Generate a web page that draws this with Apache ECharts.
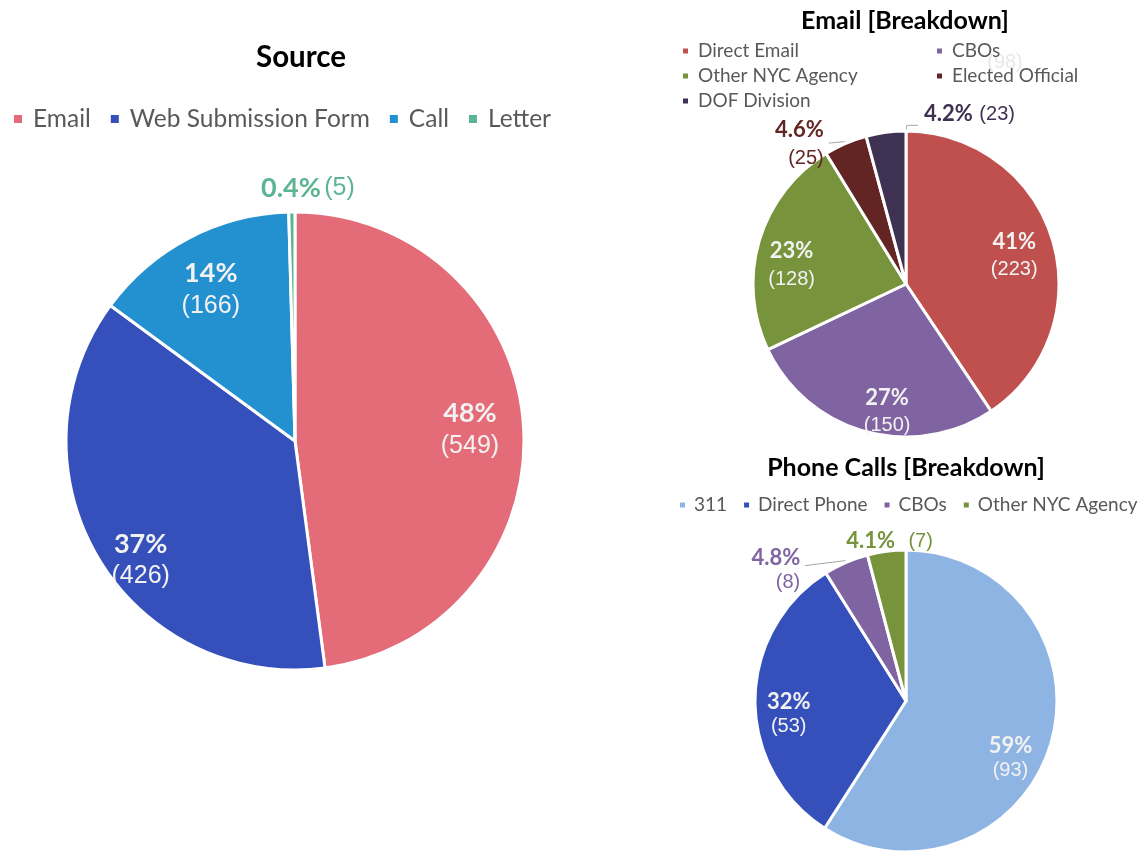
<!DOCTYPE html>
<html><head><meta charset="utf-8">
<script src="https://cdn.jsdelivr.net/npm/echarts@6/dist/echarts.min.js"></script>
<style>html,body{margin:0;padding:0;background:#fff}#c{width:1146px;height:851px}</style>
</head><body><div id="c"></div>
<script>
// ---- data ----
const sourceNames = ['Email', 'Web Submission Form', 'Call', 'Letter'];
const sourceCounts = [549, 426, 166, 5];
const sourcePct = ['48%', '37%', '14%', '0.4%'];

const emailNames = ['Direct Email', 'CBOs', 'Other NYC Agency', 'Elected Official', 'DOF Division'];
const emailCounts = [223, 150, 128, 25, 23];
const emailPct = ['41%', '27%', '23%', '4.6%', '4.2%'];
const emailStrayLabel = '(98)';

const phoneNames = ['311', 'Direct Phone', 'CBOs', 'Other NYC Agency'];
const phoneShares = [59, 32, 4.8, 4.1];
const phoneCounts = [93, 53, 8, 7];
const phonePct = ['59%', '32%', '4.8%', '4.1%'];

// ---- styles ----
const sourceColors = ['#E36C78', '#3550BA', '#2391D0', '#5BB593'];
const emailColors = ['#C0504D', '#8064A2', '#77933C', '#632523', '#3F3151'];
const phoneColors = ['#8EB4E3', '#3550BA', '#8064A2', '#77933C'];

const FONT = 'Lato, "Open Sans", sans-serif';
const NUMFONT = '"Liberation Sans", Arial, sans-serif';
const LEADER = '#A6A6A6';

function rich(pSize, cSize, color, lh) {
  return {
    p: { fontFamily: FONT, fontWeight: 'bold', fontSize: pSize, color: color, lineHeight: lh },
    c: { fontFamily: NUMFONT, fontSize: cSize, color: color, lineHeight: lh }
  };
}

// build a pie: visual series + label series
function buildPie(cfg) {
  const visual = {
    type: 'pie', center: cfg.center, radius: [0, cfg.R], startAngle: 90, clockwise: true,
    silent: true, animation: false, emphasis: { disabled: true },
    label: { show: false }, labelLine: { show: false },
    itemStyle: { borderColor: '#fff', borderWidth: cfg.border },
    data: cfg.names.map((n, i) => ({ name: n, value: cfg.values[i], itemStyle: { color: cfg.colors[i] } }))
  };
  const inner = cfg.R * cfg.ringStart;
  const labels = {
    type: 'pie', center: cfg.center, radius: [inner, cfg.R], startAngle: 90, clockwise: true,
    silent: true, animation: false, emphasis: { disabled: true }, avoidLabelOverlap: false,
    itemStyle: { color: 'rgba(0,0,0,0)', borderWidth: 0 },
    data: cfg.names.map((n, i) => {
      const it = cfg.items[i];
      const inside = it.kind === 'in';
      const col = inside ? '#F2F2F2' : cfg.colors[i];
      const sep = it.single ? (it.sep || ' ') : '\n';
      return {
        name: n, value: cfg.values[i],
        itemStyle: { color: 'rgba(0,0,0,0)' },
        label: {
          show: true, position: inside ? 'inside' : 'outside',
          formatter: '{p|' + cfg.pct[i] + '}' + sep + '{c|(' + cfg.counts[i] + ')}',
          rich: rich(cfg.pSize, cfg.cSize, col, cfg.lh)
        },
        labelLine: {
          show: !inside, length: it.line ? it.line[0] : 2, length2: it.line ? it.line[1] : 2, smooth: false,
          lineStyle: { color: it.kind === 'out' || it.kind === 'custom' ? LEADER : 'rgba(0,0,0,0)', width: 1 }
        }
      };
    }),
    labelLayout: function (params) {
      const it = cfg.items[params.dataIndex];
      if (!it) return {};
      const r = params.labelRect;
      const cx = r.x + r.width / 2, cy = r.y + r.height / 2;
      if (it.kind === 'in') {
        const o = it.off || [0, 0];
        return { x: cx + o[0], y: cy + o[1], align: 'center', verticalAlign: 'middle' };
      }
      const pts = params.labelLinePoints;
      if (!pts) return {};
      const p0 = pts[0];
      if (it.kind === 'top') {
        const o = it.off || [0, 0];
        return { x: p0[0] + o[0], y: p0[1] + o[1], align: 'center', verticalAlign: 'middle',
                 labelLinePoints: [p0, p0] };
      }
      if (it.kind === 'custom') {
        return it.custom(p0, pts);
      }
      if (it.kind === 'out' && it.off) {
        const last = pts[pts.length - 1];
        return { y: cy + it.off[1], labelLinePoints: [p0, pts[1], [last[0], last[1] + it.off[1] * 0.5]] };
      }
      return {};
    }
  };
  return [visual, labels];
}

const series = [].concat(
  buildPie({
    center: [295, 441], R: 229, border: 3, ringStart: 0.54,
    names: sourceNames, values: sourceCounts, colors: sourceColors, pct: sourcePct, counts: sourceCounts,
    pSize: 27, cSize: 25, lh: 32,
    items: [
      { kind: 'in', off: [-4, 1] },
      { kind: 'in', off: [0, 28] },
      { kind: 'in', off: [-1, 8] },
      { kind: 'top', single: true, off: [16, -24] }
    ]
  }),
  buildPie({
    center: [906, 284], R: 153, border: 3, ringStart: 0.48,
    names: emailNames, values: emailCounts, colors: emailColors, pct: emailPct, counts: emailCounts,
    pSize: 22, cSize: 20, lh: 28,
    items: [
      { kind: 'in', off: [-3, 6] },
      { kind: 'in', off: [12, 16] },
      { kind: 'in', off: [-3, 15] },
      { kind: 'out', line: [2, 16], off: [0, 3] },
      { kind: 'custom', single: true, sep: '  ', custom: function (p0) {
          return { x: p0[0] + 38, y: p0[1] - 18, align: 'left', verticalAlign: 'middle',
                   labelLinePoints: [[p0[0] + 20, p0[1] - 1], [p0[0] + 21, p0[1] - 7], [p0[0] + 32, p0[1] - 7]] };
        } }
    ]
  }),
  buildPie({
    center: [906, 701], R: 151, border: 3, ringStart: 0.54,
    names: phoneNames, values: phoneShares, colors: phoneColors, pct: phonePct, counts: phoneCounts,
    pSize: 22, cSize: 20, lh: 25,
    items: [
      { kind: 'in', off: [-10, 24] },
      { kind: 'in', off: [2, 14] },
      { kind: 'out', line: [2, 40], off: [0, 10] },
      { kind: 'top', single: true, sep: '    ', off: [3, -10] }
    ]
  })
);

const legendText = (size, lh, pad) => ({ fontFamily: FONT, fontSize: size, lineHeight: lh, color: '#595959', padding: [0, 0, 0, pad] });
const titleStyle = (size) => ({ fontFamily: FONT, fontWeight: 'bold', fontSize: size, color: '#000' });

const option = {
  backgroundColor: '#fff',
  animation: false,
  title: [
    { text: 'Source', left: 301, top: 42, textAlign: 'center', padding: 0, textStyle: titleStyle(29.5) },
    { text: 'Email [Breakdown]', left: 905, top: 8, textAlign: 'center', padding: 0, textStyle: titleStyle(25) },
    { text: 'Phone Calls [Breakdown]', left: 906, top: 455, textAlign: 'center', padding: 0, textStyle: titleStyle(25) },
    { text: emailStrayLabel, left: 1005, top: 52, textAlign: 'center', padding: 0, z: 0,
      textStyle: { fontFamily: NUMFONT, fontSize: 20, color: '#E8E8E8', fontWeight: 'normal' } }
  ],
  legend: [
    { data: sourceNames, left: 12, top: 106, orient: 'horizontal', icon: 'rect', itemWidth: 10, itemHeight: 10,
      itemGap: 18, padding: 0, selectedMode: false, z: 3, textStyle: legendText(24.5, 26, 5) },
    { data: [emailNames[0], emailNames[2], emailNames[4]], left: 681, top: 41, orient: 'vertical', icon: 'rect',
      itemWidth: 7, itemHeight: 7, itemGap: 5, padding: 0, selectedMode: false, z: 3, textStyle: legendText(19, 20, 4) },
    { data: [emailNames[1], emailNames[3]], left: 935, top: 41, orient: 'vertical', icon: 'rect',
      itemWidth: 7, itemHeight: 7, itemGap: 5, padding: 0, selectedMode: false, z: 3, textStyle: legendText(19, 20, 4) },
    { data: phoneNames, left: 678, top: 495, width: 520, orient: 'horizontal', icon: 'rect', itemWidth: 7, itemHeight: 7,
      itemGap: 15, padding: 0, selectedMode: false, z: 3, textStyle: legendText(19, 20, 3) }
  ],
  series: series
};

const chart = echarts.init(document.getElementById('c'), null, { renderer: 'canvas' });
chart.setOption(option);
</script>
</body></html>
